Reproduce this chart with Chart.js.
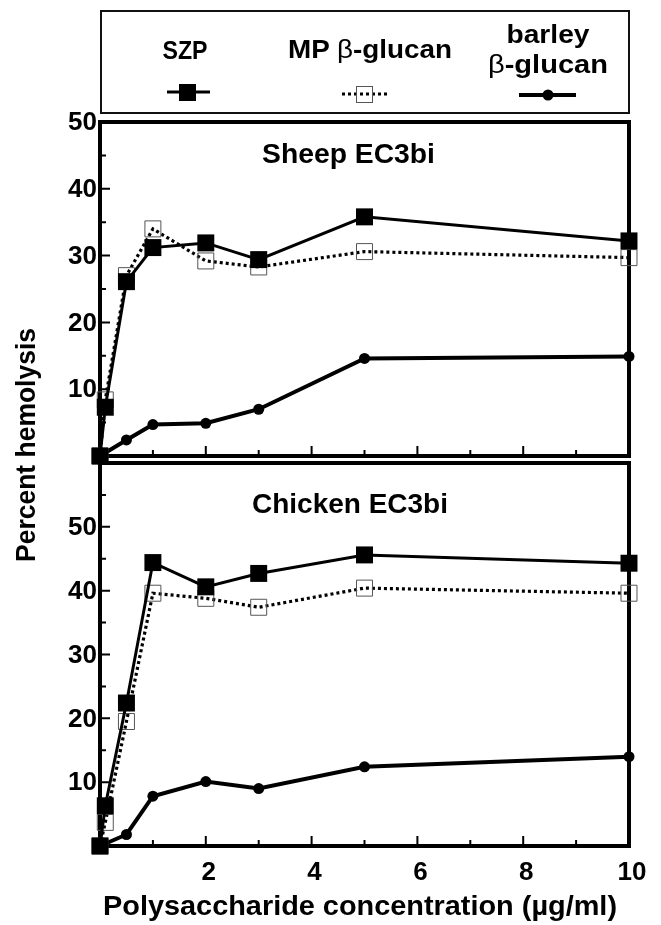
<!DOCTYPE html>
<html>
<head>
<meta charset="utf-8">
<script src="https://cdn.jsdelivr.net/npm/chart.js@4.4.1/dist/chart.umd.min.js"></script>
<style>
  html, body { margin:0; padding:0; background:#fff; }
  #wrap { position:relative; width:661px; height:925px; overflow:hidden; background:#fff; }
  canvas { position:absolute; left:0; top:0; }
  svg { position:absolute; left:0; top:0; pointer-events:none; }
  .t { font-family:"Liberation Sans", Arial, Helvetica, sans-serif; font-weight:bold; fill:#000; }
</style>
</head>
<body>
<div id="wrap">
  <canvas id="top" width="661" height="925"></canvas>
  <canvas id="bottom" width="661" height="925"></canvas>
  <svg width="661" height="925" viewBox="0 0 661 925">
    <!-- legend box -->
    <rect x="101" y="11" width="528" height="102" fill="none" stroke="#111" stroke-width="2"/>
    <text class="t" x="185" y="59" font-size="25" text-anchor="middle" textLength="45" lengthAdjust="spacingAndGlyphs">SZP</text>
    <text class="t" x="370" y="58" font-size="25" text-anchor="middle" textLength="164" lengthAdjust="spacingAndGlyphs">MP <tspan font-weight="normal">β</tspan>-glucan</text>
    <text class="t" x="548" y="43" font-size="25" text-anchor="middle" textLength="83" lengthAdjust="spacingAndGlyphs">barley</text>
    <text class="t" x="548" y="73" font-size="25" text-anchor="middle" textLength="120" lengthAdjust="spacingAndGlyphs"><tspan font-weight="normal">β</tspan>-glucan</text>
    <!-- legend symbols -->
    <line x1="167" y1="92" x2="210" y2="92" stroke="#000" stroke-width="3"/>
    <rect x="179" y="84" width="17" height="17" fill="#000"/>
    <line x1="342" y1="94" x2="387" y2="94" stroke="#000" stroke-width="3" stroke-dasharray="3 3"/>
    <rect x="356.5" y="86.5" width="16" height="16" fill="none" stroke="#555" stroke-width="1"/>
    <line x1="519" y1="95" x2="576" y2="95" stroke="#000" stroke-width="4"/>
    <circle cx="548" cy="95" r="5.5" fill="#000"/>
    <!-- panel titles -->
    <text class="t" x="348.5" y="163" font-size="28" text-anchor="middle" textLength="173" lengthAdjust="spacingAndGlyphs">Sheep EC3bi</text>
    <text class="t" x="350" y="513" font-size="28" text-anchor="middle" textLength="196" lengthAdjust="spacingAndGlyphs">Chicken EC3bi</text>
    <!-- axis titles -->
    <text class="t" x="360" y="915" font-size="28" text-anchor="middle" textLength="514" lengthAdjust="spacingAndGlyphs">Polysaccharide concentration (µg/ml)</text>
    <text class="t" x="35" y="445" font-size="27" text-anchor="middle" textLength="234" lengthAdjust="spacingAndGlyphs" transform="rotate(-90 35 445)">Percent hemolysis</text>
  </svg>
</div>
<script>
// ---------------- data ----------------
const concentrations = [0, 0.1, 0.5, 1, 2, 3, 5, 10];

const sheepSZP    = [0, 7.3, 26.1, 31.2, 31.9, 29.4, 35.8, 32.2];
const sheepMP     = [0, 8.4, 27.0, 34.0, 29.2, 28.3, 30.6, 29.7];
const sheepBarley = [0, null, 2.4, 4.7, 4.9, 7.0, 14.6, 14.9];

const chickenSZP    = [0, 6.3, 22.4, 44.4, 40.6, 42.7, 45.6, 44.3];
const chickenMP     = [0, 3.7, 19.5, 39.6, 38.8, 37.4, 40.4, 39.6];
const chickenBarley = [0, null, 1.8, 7.8, 10.1, 9.0, 12.4, 14.0];

const xTickLabels      = [2, 4, 6, 8, 10];
const xMinorTicks      = [1, 3, 5, 7, 9];
const xMajorTicks      = [2, 4, 6, 8];
const yTickLabelsTop   = [10, 20, 30, 40, 50];
const yTickLabelsBot   = [10, 20, 30, 40, 50];
const yMinorTop        = [5, 15, 25, 35, 45];
const yMajorTop        = [10, 20, 30, 40];
const yMinorBot        = [5, 15, 25, 35, 45, 55];
const yMajorBot        = [10, 20, 30, 40, 50];

// --------------- helpers ---------------
const FONT = '"Liberation Sans", Arial, Helvetica, sans-serif';
function pts(ys) { return concentrations.map((x, i) => ({ x: x, y: ys[i] })); }

function datasets(szp, mp, barley) {
  return [
    { label: 'SZP', data: pts(szp), borderColor: '#000', borderWidth: 3,
      pointStyle: 'rect', pointRadius: 12, pointBackgroundColor: '#000', pointBorderWidth: 0,
      tension: 0, clip: false },
    { label: 'MP β-glucan', data: pts(mp), borderColor: '#000', borderWidth: 3.2, borderDash: [3, 3],
      pointStyle: 'rect', pointRadius: 11.3, pointBackgroundColor: 'rgba(0,0,0,0)',
      pointBorderColor: '#555', pointBorderWidth: 1, tension: 0, clip: false },
    { label: 'barley β-glucan', data: pts(barley), borderColor: '#000', borderWidth: 4,
      pointStyle: 'circle', pointRadius: 5.5, pointBackgroundColor: '#000', pointBorderWidth: 0,
      spanGaps: true, tension: 0, clip: false }
  ];
}

function framePlugin(yMajor, yMinor) {
  return {
    id: 'frame',
    beforeDatasetsDraw(chart) {
      const { ctx, chartArea: a, scales } = chart;
      const x = scales.x, y = scales.y;
      ctx.save();
      ctx.strokeStyle = '#000';
      ctx.lineWidth = 4;
      ctx.strokeRect(a.left, a.top, a.right - a.left, a.bottom - a.top);
      ctx.lineWidth = 2;
      ctx.beginPath();
      xMajorTicks.forEach(v => { const p = x.getPixelForValue(v); ctx.moveTo(p, a.bottom); ctx.lineTo(p, a.bottom - 10); });
      xMinorTicks.forEach(v => { const p = x.getPixelForValue(v); ctx.moveTo(p, a.bottom); ctx.lineTo(p, a.bottom - 6); });
      yMajor.forEach(v => { const p = y.getPixelForValue(v); ctx.moveTo(a.left, p); ctx.lineTo(a.left + 10, p); });
      yMinor.forEach(v => { const p = y.getPixelForValue(v); ctx.moveTo(a.left, p); ctx.lineTo(a.left + 6, p); });
      ctx.stroke();
      ctx.restore();
    }
  };
}

function makeChart(id, ds, yMax, yLabels, yMajor, yMinor, showX, padTop, padBottom) {
  return new Chart(document.getElementById(id), {
    type: 'line',
    data: { datasets: ds },
    options: {
      responsive: false, animation: false,
      layout: { padding: { top: padTop, bottom: padBottom, left: 0, right: 32 } },
      plugins: { legend: { display: false }, tooltip: { enabled: false } },
      elements: { line: { borderJoinStyle: 'miter' } },
      scales: {
        x: {
          type: 'linear', min: 0, max: 10, display: showX,
          grid: { display: false, drawTicks: false }, border: { display: false },
          afterBuildTicks: s => { s.ticks = xTickLabels.map(v => ({ value: v })); },
          afterFit: s => { s.height = showX ? 79 : 0; },
          ticks: { color: '#000', padding: 11, labelOffset: 3,
                   font: { family: FONT, size: 26, weight: 'bold' } }
        },
        y: {
          type: 'linear', min: 0, max: yMax,
          grid: { display: false, drawTicks: false }, border: { display: false },
          afterBuildTicks: s => { s.ticks = yLabels.map(v => ({ value: v })); },
          afterFit: s => { s.width = 100; },
          ticks: { color: '#000', padding: 3, labelOffset: 1,
                   font: { family: FONT, size: 26, weight: 'bold' } }
        }
      }
    },
    plugins: [framePlugin(yMajor, yMinor)]
  });
}

makeChart('top', datasets(sheepSZP, sheepMP, sheepBarley), 50, yTickLabelsTop, yMajorTop, yMinorTop, false, 122, 925 - 456);
makeChart('bottom', datasets(chickenSZP, chickenMP, chickenBarley), 60, yTickLabelsBot, yMajorBot, yMinorBot, true, 463, 0);
</script>
</body>
</html>
